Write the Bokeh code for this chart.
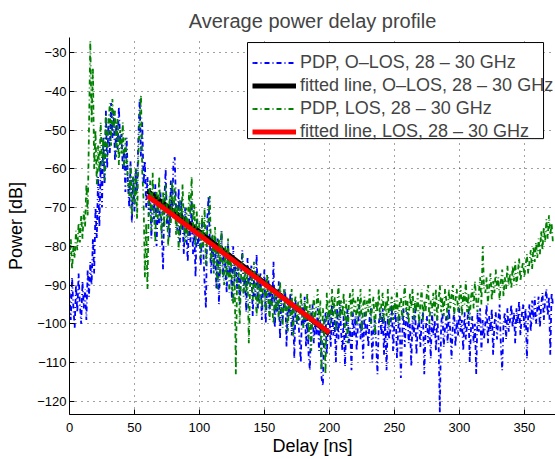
from bokeh.plotting import figure
from bokeh.models import Range1d, FixedTicker, Legend, LegendItem, BoxAnnotation
from bokeh.embed import file_html
from bokeh.resources import INLINE

# ---------------- data ----------------
pdp_olos = [
    -92, -99, -88, -96, -101, -90, -97, -87, -95, -100,
    -89, -96, -91, -99, -86, -93, -84, -90, -78, -87,
    -70, -78, -62, -75, -58, -70, -52, -64, -45, -60,
    -47, -56, -43, -52, -45, -58, -48, -55, -44, -53,
    -51, -60, -55, -66, -52, -64, -70, -58, -74, -62,
    -71, -60, -66, -52, -42, -57, -48, -64, -58, -70,
    -62, -72, -65, -78, -67, -73, -64, -80, -69, -74,
    -66, -77, -86, -68, -60, -75, -69, -78, -63, -72,
    -58, -57, -70, -76, -65, -79, -68, -74, -82, -70,
    -77, -84, -72, -79, -68, -82, -75, -88, -73, -80,
    -76, -85, -74, -81, -90, -96, -73, -67, -79, -87,
    -77, -86, -80, -91, -78, -95, -82, -76, -88, -81,
    -86, -92, -79, -88, -83, -94, -80, -89, -85, -91,
    -84, -95, -87, -81, -92, -86, -97, -83, -90, -88,
    -85, -98, -88, -93, -82, -96, -89, -87, -99, -91,
    -86, -100, -92, -88, -97, -90, -95, -84, -101, -93,
    -97, -89, -104, -92, -99, -95, -91, -106, -94, -98,
    -92, -103, -96, -109, -94, -100, -98, -104, -110, -95,
    -101, -93, -106, -98, -108, -112, -97, -95, -105, -100,
    -103, -96, -107, -99, -114, -116, -101, -97, -108, -100,
    -97, -106, -95, -103, -99, -110, -96, -104, -94, -102,
    -107, -98, -111, -100, -96, -105, -101, -112, -97, -103,
    -98, -107, -100, -95, -104, -99, -109, -97, -103, -100,
    -106, -98, -96, -110, -101, -99, -105, -113, -100, -97,
    -103, -96, -108, -99, -112, -98, -104, -101, -95, -107,
    -100, -97, -109, -101, -98, -114, -103, -96, -106, -99,
    -97, -105, -100, -111, -98, -103, -96, -108, -101, -99,
    -106, -99, -97, -113, -102, -98, -105, -100, -109, -97,
    -103, -99, -107, -98, -104, -123, -100, -97, -106, -101,
    -98, -105, -96, -102, -109, -100, -97, -106, -99, -103,
    -96, -102, -99, -107, -97, -104, -100, -96, -110, -101,
    -98, -105, -100, -113, -97, -102, -96, -107, -99, -104,
    -100, -95, -105, -98, -102, -96, -108, -100, -97, -104,
    -99, -95, -106, -112, -100, -97, -104, -96, -102, -99,
    -95, -101, -97, -105, -96, -100, -94, -103, -98, -95,
    -101, -96, -109, -98, -95, -102, -94, -99, -93, -100,
    -96, -93, -101, -95, -92, -99, -94, -91, -98, -93,
    -108, -92, -95,
]

pdp_los = [
    -84, -78, -86, -80, -83, -76, -81, -74, -79, -72,
    -78, -71, -75, -64, -72, -50, -27, -48, -34, -60,
    -50, -64, -54, -61, -48, -59, -52, -63, -46, -57,
    -49, -43, -54, -42, -50, -45, -57, -47, -59, -50,
    -56, -48, -60, -52, -58, -63, -67, -59, -72, -62,
    -69, -60, -73, -57, -47, -41, -61, -68, -88, -74,
    -91, -69, -63, -76, -61, -71, -79, -66, -73, -62,
    -72, -78, -66, -75, -64, -70, -80, -67, -74, -63,
    -73, -65, -77, -69, -81, -68, -76, -64, -74, -79,
    -70, -78, -66, -72, -62, -75, -69, -80, -71, -77,
    -74, -83, -72, -80, -70, -85, -76, -73, -67, -84,
    -77, -87, -75, -83, -91, -78, -88, -76, -85, -90,
    -80, -88, -78, -92, -83, -89, -95, -84, -113, -87,
    -85, -100, -88, -82, -93, -86, -92, -87, -105, -90,
    -86, -94, -84, -91, -98, -87, -95, -88, -96, -90,
    -89, -97, -87, -94, -99, -90, -96, -100, -91, -97,
    -92, -99, -89, -96, -101, -91, -97, -93, -102, -94,
    -98, -91, -103, -95, -93, -100, -94, -99, -92, -98,
    -101, -94, -99, -92, -104, -95, -107, -98, -93, -99,
    -95, -91, -100, -94, -112, -96, -101, -113, -92, -99,
    -94, -100, -91, -98, -93, -102, -95, -90, -99, -94,
    -98, -92, -101, -94, -105, -95, -92, -99, -91, -97,
    -94, -100, -93, -98, -91, -102, -95, -93, -99, -94,
    -97, -91, -100, -95, -93, -103, -94, -97, -91, -99,
    -95, -92, -100, -94, -98, -91, -101, -95, -93, -99,
    -94, -97, -91, -100, -95, -93, -99, -94, -90, -97,
    -94, -100, -92, -96, -91, -99, -94, -97, -92, -100,
    -95, -91, -99, -94, -97, -92, -90, -100, -94, -96,
    -92, -98, -91, -99, -94, -90, -97, -93, -98, -91,
    -94, -99, -91, -96, -93, -90, -98, -94, -91, -97,
    -93, -90, -98, -92, -95, -89, -97, -92, -99, -93,
    -91, -96, -89, -94, -97, -92, -88, -95, -80, -91,
    -92, -88, -95, -90, -87, -94, -89, -92, -86, -91,
    -88, -94, -89, -86, -93, -88, -91, -85, -90, -87,
    -91, -85, -89, -84, -90, -87, -83, -89, -86, -84,
    -88, -85, -82, -87, -84, -81, -86, -80, -84, -79,
    -83, -78, -82, -76, -81, -75, -79, -73, -78, -72,
    -77, -74, -79,
]

delay_ns = list(range(len(pdp_olos)))  # 1 ns sampling grid

fit_delay = [60, 200]
fit_olos = [-65.7, -102.6]
fit_los = [-67.0, -102.3]

x_ticks = [0, 50, 100, 150, 200, 250, 300, 350]
y_ticks = [-120, -110, -100, -90, -80, -70, -60, -50, -40, -30]
y_tick_labels = ["\u2212120", "\u2212110", "\u2212100", "\u221290", "\u221280",
                 "\u221270", "\u221260", "\u221250", "\u221240", "\u221230"]

labels = ["PDP, O\u2013LOS, 28 \u2013 30 GHz",
          "fitted line, O\u2013LOS, 28 \u2013 30 GHz",
          "PDP, LOS, 28 \u2013 30 GHz",
          "fitted line, LOS, 28 \u2013 30 GHz"]

FONT = "Liberation Sans"

p = figure(width=555, height=459, output_backend="svg", toolbar_location=None,
           x_range=Range1d(0, 374), y_range=Range1d(-123.4, -26.1),
           min_border_left=69, min_border_right=0, min_border_top=37,
           min_border_bottom=45, background_fill_color="white",
           border_fill_color="white")
p.outline_line_color = None

p.title.text = "Average power delay profile"
p.title.align = "center"
p.title.text_font = FONT
p.title.text_font_size = "20px"
p.title.text_font_style = "normal"
p.title.standoff = 12

r_olos = p.line(delay_ns, pdp_olos, line_color="#0000ff", line_width=1.8,
                line_dash="5 3 1 3")
r_fit_olos = p.line(fit_delay, fit_olos, line_color="black", line_width=5)
r_los = p.line(delay_ns, pdp_los, line_color="#008000", line_width=1.8,
               line_dash="5 3 1 3")
r_fit_los = p.line(fit_delay, fit_los, line_color="#ff0000", line_width=5)

for ax in (p.xaxis[0], p.yaxis[0]):
    ax.major_tick_in = 5
    ax.major_tick_out = 0
    ax.minor_tick_in = 0
    ax.minor_tick_out = 0
    ax.axis_line_color = "black"
    ax.major_tick_line_color = "black"
    ax.major_label_text_font = FONT
    ax.major_label_text_font_size = "13px"
    ax.major_label_text_color = "black"
    ax.axis_label_text_font = FONT
    ax.axis_label_text_font_size = "18px"
    ax.axis_label_text_font_style = "normal"
    ax.axis_label_text_color = "black"

p.xaxis.ticker = FixedTicker(ticks=x_ticks)
p.yaxis.ticker = FixedTicker(ticks=y_ticks)
p.yaxis.major_label_overrides = {float(t): s for t, s in zip(y_ticks, y_tick_labels)}
p.xaxis.axis_label = "Delay [ns]"
p.yaxis.axis_label = "Power [dB]"
p.xaxis.major_label_standoff = 8
p.yaxis.major_label_standoff = 3
p.xaxis.axis_label_standoff = 1
p.yaxis.axis_label_standoff = 8

for g in (p.xgrid[0], p.ygrid[0]):
    g.grid_line_color = "#444444"
    g.grid_line_dash = "1 5"
    g.grid_line_width = 1

# legend frame (MATLAB-style box; the longest label overflows it as in the original)
legend_box = BoxAnnotation(left=137.0, right=364.8, top=-27.4, bottom=-52.2,
                           fill_color="white", fill_alpha=1,
                           line_color="black", line_width=1, line_alpha=1)
p.add_layout(legend_box)

lg = Legend(items=[LegendItem(label=labels[0], renderers=[r_olos]),
                   LegendItem(label=labels[1], renderers=[r_fit_olos]),
                   LegendItem(label=labels[2], renderers=[r_los]),
                   LegendItem(label=labels[3], renderers=[r_fit_los])],
            location=(183, 272))
lg.label_text_font = FONT
lg.label_text_font_size = "18px"
lg.label_height = 21
lg.glyph_height = 21
lg.glyph_width = 44
lg.label_standoff = 4
lg.spacing = 2
lg.padding = 5
lg.margin = 0
lg.border_line_color = None
lg.background_fill_alpha = 0
p.add_layout(lg)

open("out.html", "w").write(file_html(p, INLINE))
